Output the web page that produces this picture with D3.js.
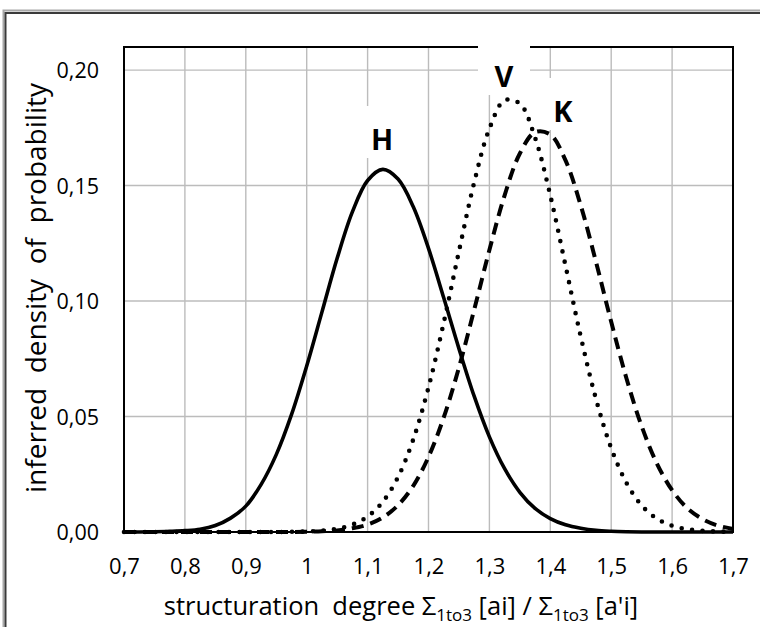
<!DOCTYPE html>
<html>
<head>
<meta charset="utf-8">
<script src="https://cdn.jsdelivr.net/npm/d3@7"></script>
<style>
  html, body { margin: 0; padding: 0; background: #ffffff; overflow: hidden; }
  svg { display: block; }
  text { font-family: "Open Sans", "Noto Sans", sans-serif; fill: #000; }
</style>
</head>
<body>
<svg id="chart" width="760" height="627"></svg>
<script>
// ---- data ----
const xValues = [0.700,0.725,0.750,0.775,0.800,0.825,0.850,0.875,0.900,0.925,0.950,0.975,
  1.000,1.025,1.050,1.075,1.100,1.125,1.150,1.175,1.200,1.225,1.250,1.275,1.300,1.325,
  1.350,1.375,1.400,1.425,1.450,1.475,1.500,1.525,1.550,1.575,1.600,1.625,1.650,1.675,1.700];

const seriesH = [0,0,0.0001,0.0003,0.0006,0.0012,0.0028,0.0060,0.0112,0.0205,0.0335,0.0508,
  0.0719,0.0952,0.1185,0.1386,0.1522,0.1570,0.1528,0.1408,0.1228,0.1014,0.0794,0.0588,0.0412,0.0274,
  0.0172,0.0102,0.0058,0.0031,0.0016,0.0007,0.0003,0.0001,0,0,0,0,0,0,0];

const seriesV = [0,0,0,0,0,0,0,0,0,0,0,0.0001,
  0.0002,0.0006,0.0014,0.0032,0.0067,0.0131,0.0238,0.0401,0.0626,0.0906,0.1215,0.1513,0.1746,0.1869,
  0.1855,0.1707,0.1457,0.1153,0.0846,0.0576,0.0363,0.0213,0.0115,0.0058,0.0027,0.0012,0.0005,0.0002,0.0001];

const seriesK = [0,0,0,0,0,0,0,0,0,0,0,0,
  0.0001,0.0003,0.0007,0.0016,0.0032,0.0063,0.0116,0.0200,0.0325,0.0496,0.0712,0.0962,0.1221,0.1458,
  0.1639,0.1731,0.1721,0.1609,0.1414,0.1170,0.0910,0.0666,0.0458,0.0297,0.0181,0.0103,0.0056,0.0028,0.0013];

const xTicks = [0.7,0.8,0.9,1.0,1.1,1.2,1.3,1.4,1.5,1.6,1.7];
const xTickLabels = ["0,7","0,8","0,9","1","1,1","1,2","1,3","1,4","1,5","1,6","1,7"];
const yTicks = [0,0.05,0.10,0.15,0.20];
const yTickLabels = ["0,00","0,05","0,10","0,15","0,20"];

const seriesNames = ["H","V","K"];

// ---- layout ----
const svg = d3.select("#chart");
const L = 124, R = 733, T = 47, B = 532;
const x = d3.scaleLinear().domain([0.7,1.7]).range([L,R]);
const y = d3.scaleLinear().domain([0,0.21]).range([B,T]);

// outer frame
svg.append("rect").attr("x",3.5).attr("y",10.5).attr("width",800).attr("height",700)
  .attr("fill","none").attr("stroke","#a8a8a8").attr("stroke-width",2);
svg.append("rect").attr("x",5.5).attr("y",13).attr("width",800).attr("height",700)
  .attr("fill","none").attr("stroke","#3a3a3a").attr("stroke-width",2);

// gridlines
const grid = svg.append("g").attr("stroke","#bcbcbc").attr("stroke-width",1.4);
xTicks.slice(1,-1).forEach(v => {
  grid.append("line").attr("x1",x(v)).attr("x2",x(v)).attr("y1",T).attr("y2",B);
});
yTicks.slice(1).forEach(v => {
  grid.append("line").attr("x1",L).attr("x2",R).attr("y1",y(v)).attr("y2",y(v));
});

// plot border
svg.append("rect").attr("x",L).attr("y",T).attr("width",R-L).attr("height",B-T)
  .attr("fill","none").attr("stroke","#000").attr("stroke-width",2);

// axes (labels only)
const xAxis = d3.axisBottom(x).tickValues(xTicks).tickSize(0)
  .tickFormat((d,i) => xTickLabels[i]);
const gx = svg.append("g").attr("transform",`translate(0,${B})`).call(xAxis);
gx.select(".domain").remove();
gx.selectAll("text").attr("dy",0).attr("y",42).style("font-size","22px")
  .style("font-family","'Open Sans', sans-serif");

const yAxis = d3.axisLeft(y).tickValues(yTicks).tickSize(0)
  .tickFormat((d,i) => yTickLabels[i]);
const gy = svg.append("g").attr("transform",`translate(${L},0)`).call(yAxis);
gy.select(".domain").remove();
gy.selectAll("text").attr("x",-25).attr("dy","0.35em").style("font-size","21.5px")
  .style("font-family","'Open Sans', sans-serif");

// axis titles
const xt = svg.append("text").attr("x",401).attr("y",615).attr("text-anchor","middle")
  .style("font-size","25.5px").attr("xml:space","preserve");
xt.append("tspan").text("structuration  degree Σ");
xt.append("tspan").text("1to3").style("font-size","17px").attr("dy",6);
xt.append("tspan").text(" [ai] / Σ").attr("dy",-6);
xt.append("tspan").text("1to3").style("font-size","17px").attr("dy",6);
xt.append("tspan").text(" [a'i]").attr("dy",-6);

svg.append("text").attr("transform",`translate(46,288) rotate(-90)`)
  .attr("text-anchor","middle").style("font-size","28px")
  .attr("xml:space","preserve")
  .text("inferred  density  of  probability");

// label background boxes (white, drawn over grid/border)
const labelCenters = [[382,150],[504,87],[563,122]];
labelCenters.forEach(c => {
  svg.append("rect").attr("x",c[0]-26).attr("y",c[1]-44).attr("width",52).attr("height",52)
    .attr("fill","#fff");
});

// curves
const line = d3.line().x((d,i) => x(xValues[i])).y(d => y(d)).curve(d3.curveCatmullRom.alpha(0.5));
svg.append("path").datum(seriesH).attr("d",line).attr("fill","none")
  .attr("stroke","#000").attr("stroke-width",3.6);
svg.append("path").datum(seriesV).attr("d",line).attr("fill","none")
  .attr("stroke","#000").attr("stroke-width",4.6).attr("stroke-linecap","round")
  .attr("stroke-dasharray","0 10.5");
svg.append("path").datum(seriesK).attr("d",line).attr("fill","none")
  .attr("stroke","#000").attr("stroke-width",4).attr("stroke-dasharray","12 7");

// series labels
labelCenters.forEach((c,i) => {
  svg.append("text").attr("x",c[0]).attr("y",c[1]).attr("text-anchor","middle")
    .style("font-size","29px").style("font-weight","bold").text(seriesNames[i]);
});
</script>
</body>
</html>
